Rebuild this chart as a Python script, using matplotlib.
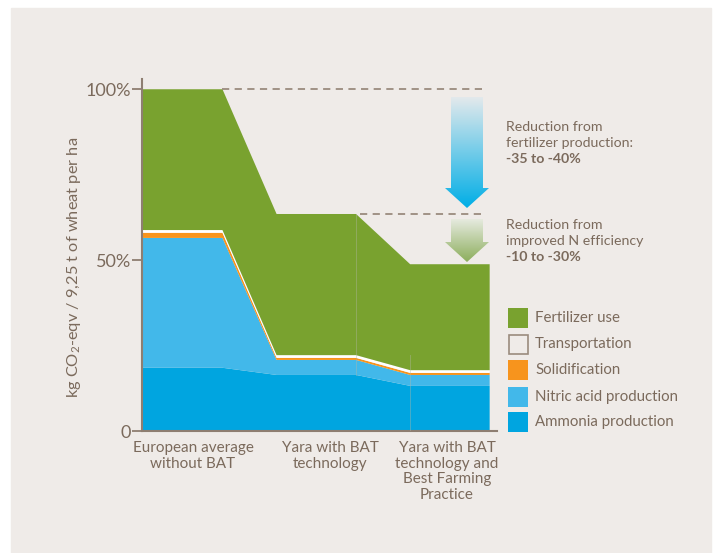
import numpy as np
import matplotlib
matplotlib.use("Agg")
import matplotlib.pyplot as plt
from matplotlib.patches import Rectangle, Polygon

plt.rcParams['font.family'] = ['Lato', 'DejaVu Sans']
plt.rcParams['mathtext.fontset'] = 'custom'
plt.rcParams['mathtext.rm'] = 'Lato'
plt.rcParams['mathtext.default'] = 'regular'

# ---------------- data ----------------
categories = ["European average\nwithout BAT",
              "Yara with BAT\ntechnology",
              "Yara with BAT\ntechnology and\nBest Farming\nPractice"]
series_names = ["Ammonia production", "Nitric acid production", "Solidification",
                "Transportation", "Fertilizer use"]
ammonia = [18.5, 16.4, 13.2]
nitric_acid = [38.0, 4.4, 3.2]
solidification = [1.5, 0.6, 0.6]
transportation = [0.8, 0.8, 0.8]
fertilizer_use = [41.2, 41.3, 31.0]
ytick_values = [0, 50, 100]
ytick_labels = ["0", "50%", "100%"]
note1 = ["Reduction from", "fertilizer production:", "-35 to -40%"]
note2 = ["Reduction from", "improved N efficiency", "-10 to -30%"]

# ---------------- style ----------------
BG = "#efebe8"
TXT = "#7b6a5c"
AX = "#8e7e71"
DASH = "#9a8b7e"
colors = ["#00a5e0", "#42b8ea", "#f7941d", "#ffffff", "#79a22f"]
plateau_w = 0.595

W, H = 716, 553
fig = plt.figure(figsize=(W / 100, H / 100), dpi=100, facecolor="white")
fig.patches.append(Rectangle((11 / W, 0), (711 - 11) / W, (553 - 8) / H,
                             transform=fig.transFigure, color=BG, zorder=-10))

ax = fig.add_axes([142 / W, 1 - 431 / H, (497 - 142) / W, (431 - 79) / H])
ax.set_facecolor("none")

# build x positions: each category is a plateau
n = len(categories)
xs = []
for i in range(n):
    xs += [i, i + plateau_w]
xs = np.array(xs, dtype=float)
layers = [ammonia, nitric_acid, solidification, transportation, fertilizer_use]
ys = [np.repeat(np.array(l, dtype=float), 2) for l in layers]
ax.stackplot(xs, *ys, colors=colors, linewidth=0, antialiased=True)

totals = np.sum(np.array(layers), axis=0)
lower2 = np.array(ammonia) + np.array(nitric_acid) + np.array(solidification) + np.array(transportation)

# faint seams
ax.plot([1 + plateau_w, 1 + plateau_w], [ammonia[1], totals[1]], color="#b4b8a6", lw=0.7, alpha=0.4, zorder=3)
ax.plot([2, 2], [0, lower2[1]], color="#b4b8a6", lw=0.7, alpha=0.4, zorder=3)

ax.set_xlim(-0.0075, 2.65)
ax.set_ylim(0, 103)

# dashed reference lines
xr = 2.57
ax.plot([plateau_w, xr], [totals[0], totals[0]], ls=(0, (4, 3)), color=DASH, lw=1.3, zorder=4)
ax.plot([1 + plateau_w + 0.03, xr], [totals[1], totals[1]], ls=(0, (4, 3)), color=DASH, lw=1.3, zorder=4)

for s in ["top", "right"]:
    ax.spines[s].set_visible(False)
for s in ["left", "bottom"]:
    ax.spines[s].set_color(AX)
    ax.spines[s].set_linewidth(1.5)
ax.set_xticks([])
ax.set_yticks(ytick_values)
ax.set_yticklabels(ytick_labels)
ax.tick_params(axis="y", direction="out", length=7, width=1.3, color=AX,
               labelcolor=TXT, labelsize=13, pad=1)

# ---------------- overlay in pixel coordinates ----------------
ov = fig.add_axes([0, 0, 1, 1])
ov.set_facecolor("none")
ov.axis("off")


def grad_arrow(x0, x1, hx0, hx1, ytop, yhead, ybot, ctop, cbot):
    pts = [(x0, ytop), (x1, ytop), (x1, yhead), (hx1, yhead), ((hx0 + hx1) / 2, ybot),
           (hx0, yhead), (x0, yhead)]
    poly = Polygon(pts, closed=True, facecolor="none", edgecolor="none", transform=ov.transData)
    ov.add_patch(poly)
    t = np.linspace(0, 1, 200)[:, None, None]
    c0 = np.array(matplotlib.colors.to_rgb(ctop))[None, None, :]
    c1 = np.array(matplotlib.colors.to_rgb(cbot))[None, None, :]
    img = c0 * (1 - t) + c1 * t
    im = ov.imshow(img, extent=(hx0, hx1, ybot, ytop), origin="upper", aspect="auto",
                   interpolation="bilinear", zorder=2)
    im.set_clip_path(poly)


grad_arrow(451, 483, 445, 489, 97, 188, 208, "#e3e9ec", "#00aee6")
grad_arrow(451, 483, 445, 489, 219, 242, 262, "#e6eadf", "#8cae5c")

# annotations
for lines, y0 in [(note1, 127), (note2, 225)]:
    for k, line in enumerate(lines):
        ov.text(506, y0 + 16 * k, line, color=TXT, fontsize=10.2, va="center", ha="left",
                fontweight="bold" if k == 2 else "normal")

# legend
leg_y = [318, 344, 370, 397, 422]
leg_order = [4, 3, 2, 1, 0]
for yy, idx in zip(leg_y, leg_order):
    if series_names[idx] == "Transportation":
        ov.add_patch(Rectangle((508.5, yy - 9.5), 19, 19, facecolor=BG, edgecolor=DASH, lw=1.2))
    else:
        ov.add_patch(Rectangle((508, yy - 10), 20, 20, facecolor=colors[idx], edgecolor="none"))
    ov.text(535, yy, series_names[idx], color=TXT, fontsize=10.8, va="center", ha="left")

# x labels
for xc, lab in zip([193, 330, 447], categories):
    ov.text(xc, 441, lab, color=TXT, fontsize=11, ha="center", va="top", linespacing=1.15)

# y label
ov.text(74, 267, "kg CO$_2$-eqv / 9,25 t of wheat per ha", color=TXT, fontsize=11.8,
        rotation=90, ha="center", va="center")

ov.set_xlim(0, W)
ov.set_ylim(H, 0)

fig.savefig("out.png", dpi=100, facecolor="white")
